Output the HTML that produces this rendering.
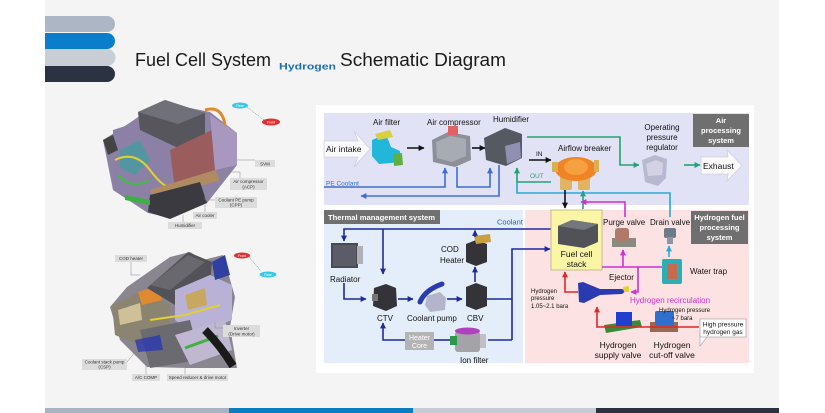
<!DOCTYPE html>
<html><head><meta charset="utf-8"><style>
html,body{margin:0;padding:0;background:#fff;}
body{width:825px;height:413px;overflow:hidden;}
svg{display:block;font-family:"Liberation Sans",Arial,sans-serif;}
</style></head><body>
<svg width="825" height="413" viewBox="0 0 825 413" xmlns="http://www.w3.org/2000/svg">
<defs>
<marker id="mBk" viewBox="0 0 10 10" refX="9" refY="5" markerWidth="6" markerHeight="6" orient="auto" markerUnits="userSpaceOnUse"><path d="M0,0L10,5L0,10z" fill="#111"/></marker>
<marker id="mNv" viewBox="0 0 10 10" refX="9" refY="5" markerWidth="6" markerHeight="6" orient="auto" markerUnits="userSpaceOnUse"><path d="M0,0L10,5L0,10z" fill="#1e2a9e"/></marker>
<marker id="mPe" viewBox="0 0 10 10" refX="9" refY="5" markerWidth="6" markerHeight="6" orient="auto" markerUnits="userSpaceOnUse"><path d="M0,0L10,5L0,10z" fill="#3a6fd0"/></marker>
<marker id="mGr" viewBox="0 0 10 10" refX="9" refY="5" markerWidth="6" markerHeight="6" orient="auto" markerUnits="userSpaceOnUse"><path d="M0,0L10,5L0,10z" fill="#22a46e"/></marker>
<marker id="mCy" viewBox="0 0 10 10" refX="9" refY="5" markerWidth="6" markerHeight="6" orient="auto" markerUnits="userSpaceOnUse"><path d="M0,0L10,5L0,10z" fill="#26a9d6"/></marker>
<marker id="mTl" viewBox="0 0 10 10" refX="9" refY="5" markerWidth="6" markerHeight="6" orient="auto" markerUnits="userSpaceOnUse"><path d="M0,0L10,5L0,10z" fill="#2a9f8a"/></marker>
<marker id="mMg" viewBox="0 0 10 10" refX="9" refY="5" markerWidth="6" markerHeight="6" orient="auto" markerUnits="userSpaceOnUse"><path d="M0,0L10,5L0,10z" fill="#d22ed2"/></marker>
<marker id="mRd" viewBox="0 0 10 10" refX="9" refY="5" markerWidth="6" markerHeight="6" orient="auto" markerUnits="userSpaceOnUse"><path d="M0,0L10,5L0,10z" fill="#e02828"/></marker>
</defs>

<!-- slide background -->
<rect x="0" y="0" width="825" height="413" fill="#ffffff"/>
<rect x="45" y="0" width="734" height="408" fill="#f4f4f4"/>

<!-- top-left bars -->
<path d="M45,16H107a8,8 0 0 1 0,16H45z" fill="#adb6c4"/>
<path d="M45,66H107a8,8 0 0 1 0,16H45z" fill="#2b3342"/>
<path d="M45,49H107a8,8 0 0 1 0,17H45z" fill="#c9ced6"/>
<path d="M45,33H107a8,8 0 0 1 0,16H45z" fill="#0a7ecb"/>

<!-- title -->
<text x="135" y="66" font-size="18" fill="#1a1a1a" textLength="136" lengthAdjust="spacingAndGlyphs">Fuel Cell System</text>
<text x="279" y="69.5" font-size="9" font-weight="bold" fill="#1f6fb5" textLength="57" lengthAdjust="spacingAndGlyphs">Hydrogen</text>
<text x="340" y="66" font-size="18" fill="#1a1a1a" textLength="166" lengthAdjust="spacingAndGlyphs">Schematic Diagram</text>

<!-- bottom bars -->
<rect x="45" y="408" width="184" height="5" fill="#a9b3c1"/>
<rect x="229" y="408" width="184" height="5" fill="#0a7dc2"/>
<rect x="413" y="408" width="183" height="5" fill="#c5ccd6"/>
<rect x="596" y="408" width="183" height="5" fill="#2a3140"/>

<!-- ===== top engine ===== -->
<g>
<polygon points="103,140 122,128 160,102 210,112 237,133 237,165 207,203 170,218 148,213 113,190" fill="#8c82a4"/>
<polygon points="113,130 150,118 172,145 172,205 150,212 113,190" fill="#8d80a6"/>
<polygon points="120,150 140,140 150,160 135,175 120,168" fill="#3aa0a0" opacity="0.7"/>
<path d="M115,160 Q135,150 150,170 T170,185" stroke="#e0d030" stroke-width="2" fill="none"/>
<path d="M118,175 Q130,190 150,180" stroke="#3cc040" stroke-width="2" fill="none"/>
<polygon points="138,112 165,100 205,113 205,135 178,148 140,130" fill="#56565c"/>
<polygon points="138,112 165,100 205,113 178,124" fill="#707078"/>
<polygon points="170,150 212,130 215,170 175,190" fill="#9a5c5c"/>
<polygon points="210,115 237,133 237,165 215,170" fill="#a898c0"/>
<path d="M205,110 Q222,105 225,125" stroke="#e08a30" stroke-width="3" fill="none"/>
<polygon points="150,190 215,170 220,180 155,200" fill="#b08a60"/>
<polygon points="150,195 200,182 207,203 170,219 148,212" fill="#3a3a40"/>
<polygon points="125,195 150,200 150,205 125,200" fill="#3cb040"/>
<polygon points="103,140 113,135 118,150 108,155" fill="#444"/>
</g>
<g stroke="#888" stroke-width="0.5" fill="none">
<path d="M237,160 H255"/><path d="M225,172 H240 V178"/><path d="M205,195 V200 H215"/><path d="M205,205 V212"/><path d="M183,215 V222"/>
</g>
<g font-size="4.5" fill="#333" text-anchor="middle">
<rect x="255" y="160" width="20" height="7" fill="#dcdcdc"/><text x="265" y="165.5">SVM</text>
<rect x="230" y="178" width="37" height="12" fill="#dcdcdc"/><text x="248.5" y="183">Air compressor</text><text x="248.5" y="188.5">(ACP)</text>
<rect x="215" y="197" width="42" height="11" fill="#dcdcdc"/><text x="236" y="201.5">Coolant PE pump</text><text x="236" y="206.5">(CPP)</text>
<rect x="193" y="212" width="24" height="7" fill="#dcdcdc"/><text x="205" y="217">Air cooler</text>
<rect x="168" y="222" width="34" height="7" fill="#dcdcdc"/><text x="185" y="227">Humidifier</text>
</g>
<path d="M247,107 L264,120" stroke="#5a9" stroke-width="0.6" stroke-dasharray="1,1"/>
<ellipse cx="240" cy="105.5" rx="8" ry="3" fill="#38c8e8"/><text x="240" y="107" font-size="3.5" fill="#fff" text-anchor="middle">Rear</text>
<ellipse cx="271" cy="122" rx="9" ry="3.5" fill="#e03030"/><text x="271" y="123.5" font-size="3.5" fill="#fff" text-anchor="middle">Front</text>

<!-- ===== bottom engine ===== -->
<g>
<polygon points="110,307 127,287 170,257 190,252 203,260 223,255 235,297 230,327 237,368 187,368 147,367 120,340" fill="#8a8690"/>
<polygon points="112,305 145,290 170,305 170,335 140,345 115,335" fill="#8a8470"/>
<polygon points="118,310 140,303 142,320 120,325" fill="#d0c098"/>
<polygon points="138,292 158,286 162,300 142,305" fill="#e08a30"/>
<polygon points="147,288 188,252 212,262 210,285 175,305" fill="#525258"/>
<polygon points="150,285 188,255 205,262 170,290" fill="#68686e"/>
<polygon points="175,290 210,275 232,285 232,320 195,335 175,320" fill="#bab2d6"/>
<polygon points="185,295 205,288 207,305 188,310" fill="#c8a860"/>
<polygon points="212,262 225,255 230,275 215,280" fill="#3040a0"/>
<polygon points="140,330 190,320 200,360 150,368" fill="#6a6a70"/>
<polygon points="175,335 225,320 232,350 190,365" fill="#c0b8d0"/>
<path d="M150,320 L185,315 L220,305" stroke="#e0d030" stroke-width="2" fill="none"/>
<path d="M185,348 L218,336" stroke="#40b040" stroke-width="3" fill="none"/>
<path d="M205,330 Q220,345 233,366" stroke="#1a1a1a" stroke-width="8" fill="none"/>
<polygon points="135,340 160,335 163,350 138,352" fill="#2a3ab0" opacity="0.8"/>
</g>
<g stroke="#888" stroke-width="0.5" fill="none">
<path d="M131,261 V275 H140"/><path d="M223,328 H215 V322"/><path d="M127,362 L135,352"/><path d="M146,375 V360"/><path d="M185,375 V365"/>
</g>
<g font-size="4.5" fill="#333" text-anchor="middle">
<rect x="115" y="255" width="32" height="7" fill="#dcdcdc"/><text x="131" y="260">COD heater</text>
<rect x="223" y="325" width="37" height="12" fill="#dcdcdc"/><text x="241.5" y="330">Inverter</text><text x="241.5" y="335.5">(Drive motor)</text>
<rect x="82" y="359" width="45" height="11" fill="#dcdcdc"/><text x="104.5" y="363.5">Coolant stack pump</text><text x="104.5" y="368.5">(CSP)</text>
<rect x="132" y="374" width="28" height="7" fill="#dcdcdc"/><text x="146" y="379">A/C COMP</text>
<rect x="167" y="374" width="61" height="7" fill="#dcdcdc"/><text x="197.5" y="379">Speed reducer &amp; drive motor</text>
</g>
<path d="M249,257 L261,271" stroke="#5a9" stroke-width="0.6" stroke-dasharray="1,1"/>
<ellipse cx="242" cy="255.5" rx="8" ry="3" fill="#e03030"/><text x="242" y="257" font-size="3.5" fill="#fff" text-anchor="middle">Front</text>
<ellipse cx="268" cy="274.5" rx="8.5" ry="3" fill="#38c8e8"/><text x="268" y="276" font-size="3.5" fill="#fff" text-anchor="middle">Rear</text>

<!-- ===== diagram frame ===== -->
<rect x="316" y="105" width="438" height="268" fill="#ffffff"/>
<rect x="324" y="113" width="425" height="92" fill="#e2e2f6"/>
<rect x="324" y="210" width="199" height="153" fill="#e3eefa"/>
<rect x="525" y="210" width="224" height="153" fill="#fce2e2"/>

<!-- section labels -->
<rect x="693" y="114" width="56" height="33" fill="#6f6f6f"/>
<g font-size="7.5" font-weight="bold" fill="#fff" text-anchor="middle">
<text x="721" y="123">Air</text><text x="721" y="133">processing</text><text x="721" y="143">system</text>
</g>
<rect x="324" y="210" width="116" height="14" fill="#707070"/>
<text x="328" y="220" font-size="7.5" font-weight="bold" fill="#fff" textLength="107" lengthAdjust="spacingAndGlyphs">Thermal management system</text>
<rect x="691" y="211" width="57" height="33" fill="#6f6f6f"/>
<g font-size="7.5" font-weight="bold" fill="#fff" text-anchor="middle">
<text x="719.5" y="220">Hydrogen fuel</text><text x="719.5" y="230">processing</text><text x="719.5" y="240">system</text>
</g>

<!-- ===== AIR SECTION ===== -->
<polygon points="324,141 358,141 354,131 370,149 354,167 358,157 324,157" fill="#fafafa" stroke="#cfcfdf" stroke-width="0.8"/>
<text x="326" y="152" font-size="8.5" fill="#111">Air intake</text>
<polygon points="701,157 728,157 727,150 742,165.5 727,181 728,174 701,174" fill="#fafafa" stroke="#cfcfdf" stroke-width="0.8"/>
<text x="703" y="169" font-size="8.5" fill="#111">Exhaust</text>

<g font-size="8" fill="#111">
<text x="373" y="125">Air filter</text>
<text x="427" y="125">Air compressor</text>
<text x="493" y="122">Humidifier</text>
<text x="558" y="151">Airflow breaker</text>
<text x="536" y="156" font-size="6.5">IN</text>
</g>
<g font-size="8" fill="#111" text-anchor="middle">
<text x="662" y="130">Operating</text><text x="662" y="140">pressure</text><text x="662" y="150">regulator</text>
</g>

<polygon points="372,140 386,134 391,147 400,151 401,162 379,164 372,156" fill="#22b6d8"/>
<polygon points="375,134 390,130 393,137 378,140" fill="#d8d040"/>
<polygon points="393,154 402,153 403,165 394,166" fill="#60b040"/>
<polygon points="432,140 448,132 470,136 471,160 455,167 433,162" fill="#8c9098"/>
<polygon points="436,142 450,136 466,139 466,156 452,162 437,158" fill="#a7abb3"/>
<rect x="448" y="126" width="10" height="9" fill="#e06262"/>
<polygon points="484,138 505,128 522,134 522,158 506,166 486,160" fill="#555a62"/>
<polygon points="505,146 520,142 521,158 507,164" fill="#9090b2"/>
<rect x="560" y="176" width="12" height="14" rx="2" fill="#e2b462"/>
<rect x="578" y="176" width="12" height="14" rx="2" fill="#e2b462"/>
<ellipse cx="576" cy="169" rx="21" ry="12" fill="#f08424"/>
<ellipse cx="576" cy="167" rx="12" ry="8" fill="#f6a040"/>
<rect x="552" y="162" width="6" height="10" fill="#d8b050"/>
<rect x="594" y="160" width="5" height="12" fill="#d8b050"/>
<polygon points="642,160 655,155 667,159 666,178 658,186 645,182" fill="#b8b8d0"/>
<polygon points="646,164 656,160 663,163 662,175 648,176" fill="#d2d2e4"/>

<g fill="none" stroke-width="1.6">
<path d="M407,148 H424" stroke="#111" marker-end="url(#mBk)"/>
<path d="M472,148 H485" stroke="#111" marker-end="url(#mBk)"/>
<path d="M529,160 H551" stroke="#111" marker-end="url(#mBk)"/>
<path d="M527,137 H620 V165 H639" stroke="#22a46e" marker-end="url(#mGr)"/>
<path d="M684,165 H700" stroke="#22a46e" marker-end="url(#mGr)"/>
<path d="M670,217 V193 H517 V182" stroke="#26a9d6"/>
<path d="M551,182 H517 V168" stroke="#22a46e" marker-end="url(#mGr)"/>
<path d="M324,187 H445 V168" stroke="#3a6fd0" marker-end="url(#mPe)"/>
<path d="M457,167 V187 H490 V168" stroke="#3a6fd0" marker-end="url(#mPe)"/>
<path d="M499,165 V196 H361" stroke="#3a6fd0" marker-end="url(#mPe)"/>
<path d="M565,190 V208" stroke="#111" marker-end="url(#mBk)"/>
<path d="M583,209 V191" stroke="#2a9f8a" marker-end="url(#mTl)"/>
<path d="M625,217 V202 H581" stroke="#d22ed2" marker-end="url(#mMg)"/>
</g>
<text x="530" y="178" font-size="6.5" fill="#22a46e">OUT</text>
<text x="326" y="185.5" font-size="6.5" fill="#3a6fd0">PE Coolant</text>

<!-- ===== THERMAL SECTION ===== -->
<rect x="331" y="243" width="27" height="25" fill="#4a4a55"/>
<rect x="333" y="245" width="23" height="21" fill="#5c5c68"/>
<rect x="357" y="246" width="6" height="18" fill="#b0b0b8"/>
<polygon points="374,288 386,284 396,288 397,306 386,311 373,306" fill="#333338"/>
<rect x="372" y="294" width="6" height="7" fill="#777"/>
<polygon points="427,296 440,292 446,298 445,310 430,312 425,305" fill="#b4b4cc"/>
<path d="M420,302 Q425,290 442,284" stroke="#2a3ab0" stroke-width="5" fill="none" stroke-linecap="round"/>
<polygon points="466,287 476,283 487,287 487,306 476,310 466,306" fill="#333338"/>
<polygon points="466,244 476,240 487,244 487,262 476,266 466,262" fill="#333338"/>
<polygon points="474,236 490,234 491,242 476,244" fill="#c9a040"/>
<rect x="455" y="331" width="25" height="21" rx="3" fill="#a4a4a8"/>
<ellipse cx="467.5" cy="331" rx="12.5" ry="3.5" fill="#b040c0"/>
<rect x="450" y="336" width="7" height="9" fill="#2a9a4a"/>
<rect x="480" y="334" width="6" height="14" fill="#c0c0c4"/>
<rect x="405" y="332" width="29" height="18" fill="#b4b4b4"/>
<g font-size="7" fill="#fff" text-anchor="middle"><text x="419.5" y="340">Heater</text><text x="419.5" y="348">Core</text></g>

<g font-size="8" fill="#111">
<text x="330" y="282">Radiator</text>
<text x="377" y="321">CTV</text>
<text x="407" y="321">Coolant pump</text>
<text x="467" y="321">CBV</text>
<text x="441" y="252">COD</text>
<text x="440" y="263">Heater</text>
<text x="460" y="363">Ion filter</text>
</g>
<text x="497" y="224.5" font-size="7.5" fill="#2a5cc0">Coolant</text>

<g fill="none" stroke="#1e2a9e" stroke-width="1.6">
<path d="M551,229 H344 V241" marker-end="url(#mNv)"/>
<path d="M383,229 V274" marker-end="url(#mNv)"/>
<path d="M475,237 V230.5" marker-end="url(#mNv)"/>
<path d="M344,283 V299 H366" marker-end="url(#mNv)"/>
<path d="M398,299 H413" marker-end="url(#mNv)"/>
<path d="M447,299 H462" marker-end="url(#mNv)"/>
<path d="M475,282 V267" marker-end="url(#mNv)"/>
<path d="M487,299 H512"/>
<path d="M512,340 V249 H550" marker-end="url(#mNv)"/>
<path d="M512,340 H488"/>
<path d="M450,340 H434"/>
<path d="M405,340 H383 V323" marker-end="url(#mNv)"/>
</g>

<!-- ===== HYDROGEN SECTION ===== -->
<rect x="551" y="210" width="51" height="60" fill="#fbf6a6" stroke="#b8b078" stroke-width="0.8"/>
<polygon points="558,226 572,220 598,224 598,242 584,248 558,244" fill="#505258"/>
<polygon points="558,226 572,220 598,224 584,230" fill="#75777e"/>
<g font-size="8.5" fill="#111" text-anchor="middle"><text x="576.5" y="257">Fuel cell</text><text x="576.5" y="267">stack</text></g>

<rect x="612" y="238" width="24" height="9" fill="#8a8a80"/>
<rect x="615" y="228" width="14" height="13" rx="3" fill="#b07a68"/>
<rect x="664" y="228" width="12" height="10" rx="2" fill="#6f7a88"/>
<rect x="667" y="237" width="6" height="7" fill="#8896a6"/>
<rect x="662" y="259" width="20" height="25" rx="2" fill="#2ab0b4"/>
<rect x="667" y="264" width="10" height="15" fill="#c86a50"/>
<polygon points="578,283 583,282 600,289 622,289 626,291 622,294 600,295 584,303 579,302" fill="#2a3ab0"/>
<polygon points="623,287 629,286 629,292 624,292" fill="#e8d030"/>
<polygon points="604,325 640,320 642,327 606,333" fill="#3a8a3a"/>
<rect x="650" y="322" width="28" height="10" fill="#9a6a50"/>

<g fill="none" stroke-width="1.6">
<path d="M578,292 H565 V272" stroke="#e02828" marker-end="url(#mRd)"/>
<path d="M699,327 H597 V307" stroke="#e02828" marker-end="url(#mRd)"/>
<path d="M602,267 H662" stroke="#d22ed2"/>
<path d="M623,267 V250" stroke="#d22ed2" marker-end="url(#mMg)"/>
<path d="M638,267 V292 H631" stroke="#d22ed2" marker-end="url(#mMg)"/>
<path d="M669,257 V246" stroke="#26a9d6" marker-end="url(#mCy)"/>
</g>
<rect x="616" y="312" width="16" height="14" fill="#1f3fcc"/>
<rect x="655" y="311" width="19" height="15" rx="2" fill="#2f6fd0"/>

<g font-size="8" fill="#111">
<text x="603" y="225">Purge valve</text>
<text x="650" y="225">Drain valve</text>
<text x="690" y="274">Water trap</text>
<text x="609" y="280">Ejector</text>
</g>
<text x="630" y="303" font-size="8" fill="#d22ed2">Hydrogen recirculation</text>
<g font-size="6" fill="#111">
<text x="531" y="293">Hydrogen</text><text x="531" y="300">pressure</text><text x="531" y="308">1.05~2.1  bara</text>
<text x="659" y="312">Hydrogen pressure</text><text x="672" y="320">~7 bara</text>
</g>
<polygon points="700,333 707,337 700,346" fill="#fff" stroke="#999" stroke-width="0.6"/>
<rect x="700" y="319" width="46" height="18" fill="#fff" stroke="#999" stroke-width="0.6"/>
<g font-size="6.5" fill="#111" text-anchor="middle"><text x="723" y="326.5">High pressure</text><text x="723" y="334">hydrogen gas</text></g>
<g font-size="8.5" fill="#111" text-anchor="middle">
<text x="618" y="348">Hydrogen</text><text x="618" y="358">supply valve</text>
<text x="672" y="348">Hydrogen</text><text x="672" y="358">cut-off valve</text>
</g>
</svg>
</body></html>
